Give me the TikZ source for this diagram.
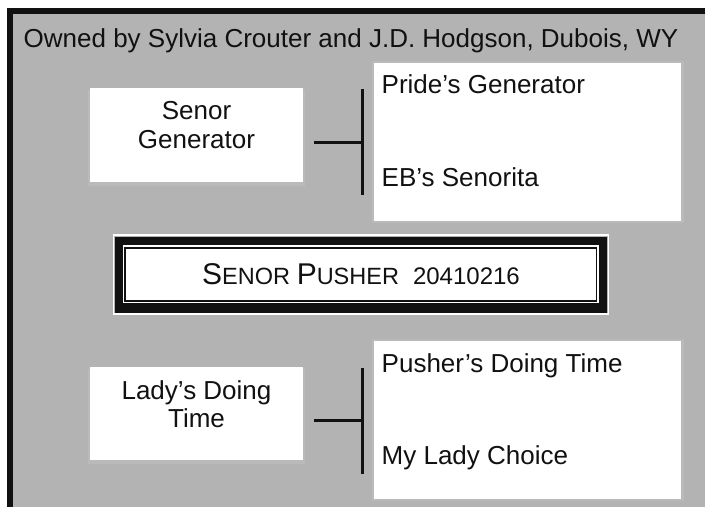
\documentclass[tikz,border=0pt]{standalone}
\usepackage{fontspec}
\setmainfont{Liberation Sans}
\definecolor{bg}{RGB}{179,179,179}
\definecolor{shade}{RGB}{186,186,186}
\definecolor{ink}{RGB}{17,17,17}
\begin{document}
\begin{tikzpicture}[x=1pt,y=-1pt,
  box/.style={fill=white, draw=none, inner sep=0pt, outer sep=0pt},
  txt/.style={font=\fontsize{26}{29}\selectfont, text=ink, inner sep=0pt, anchor=base west},
  ctxt/.style={font=\fontsize{26}{29}\selectfont, text=ink, inner sep=0pt, anchor=base},
  bracket/.style={line width=3pt, draw=ink},
  shadowbox/.style={fill=shade}]
\useasboundingbox (0,0) rectangle (705,507);
% page, frame and background
\fill[white] (0,0) rectangle (705,507);
\fill[bg] (12.5,14) rectangle (705,507);
\fill[ink] (7,8) rectangle (705,14);
\fill[ink] (7,8) rectangle (12.5,507);
% title
\node[txt] (title) at (23.5,47) {Owned by Sylvia Crouter and J.D. Hodgson, Dubois, WY};
% soft shadows
\fill[shadowbox] (87.5,90) rectangle (305,186);
\fill[shadowbox] (87.5,369) rectangle (305,464);
\fill[shadowbox] (372,61) rectangle (684,223);
\fill[shadowbox] (372,339) rectangle (684,501);
% boxes
\node[box, minimum width=213pt, minimum height=94pt] (sire) at (196.5,135) {};
\node[box, minimum width=213pt, minimum height=93pt] (dam) at (196.5,413.5) {};
\node[box, minimum width=307pt, minimum height=158pt] (sireparents) at (527.5,142) {};
\node[box, minimum width=307pt, minimum height=158pt] (damparents) at (527.5,420) {};
% texts
\node[ctxt] (sireA) at (196.5,119) {Senor};
\node[ctxt] (sireB) at (196.5,148) {Generator};
\node[ctxt] (damA) at (196.5,399) {Lady’s Doing};
\node[ctxt] (damB) at (196.5,427) {Time};
\node[txt] (ss) at (381.5,93) {Pride’s Generator};
\node[txt] (sd) at (381.5,186) {EB’s Senorita};
\node[txt] (ds) at (381.5,372) {Pusher’s Doing Time};
\node[txt] (dd) at (381.5,464) {My Lady Choice};
% brackets
\coordinate (s1) at (314,142); \coordinate (s2) at (362,142);
\coordinate (st) at (362,89); \coordinate (sb) at (362,195);
\draw[bracket] (s1) -- (s2);
\draw[bracket] (st) -- (sb);
\coordinate (d1) at (314,420); \coordinate (d2) at (362,420);
\coordinate (dt) at (362,368); \coordinate (db) at (362,474);
\draw[bracket] (d1) -- (d2);
\draw[bracket] (dt) -- (db);
% subject box with double frame
\draw[white, line width=1.5pt] (113.5,235.2) rectangle (608.5,313.8);
\fill[ink] (115,237) rectangle (607,312.5);
\fill[white] (123,245) rectangle (599,303);
\draw[ink, line width=1.4pt] (125,248) rectangle (596.5,301);
\node[inner sep=0pt, anchor=base, text=ink, font=\fontsize{24}{30}\selectfont] (subject) at (361,284)
  {{\fontsize{30}{30}\selectfont S}{\fontsize{23.5}{30}\selectfont ENOR} {\fontsize{30}{30}\selectfont P}{\fontsize{23.5}{30}\selectfont USHER}\hspace{14pt}20410216};
\end{tikzpicture}
\end{document}
